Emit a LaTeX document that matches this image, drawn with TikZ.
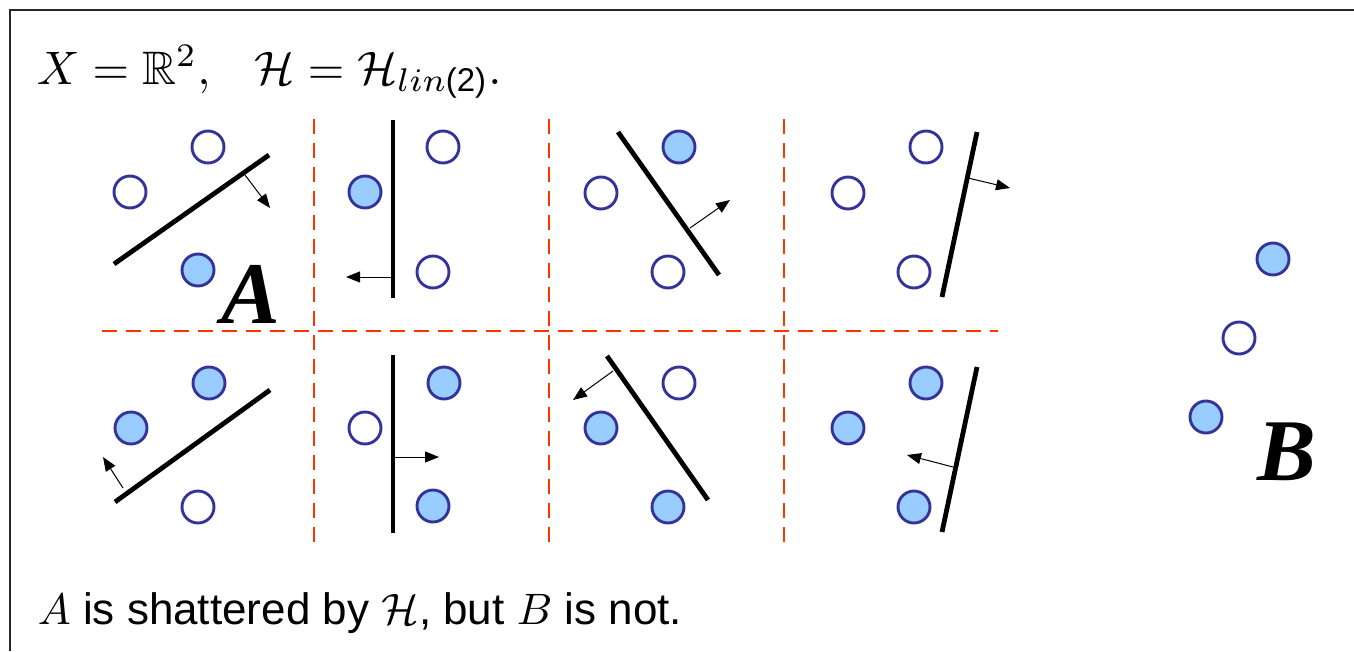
\documentclass[tikz,border=0pt]{standalone}
\usepackage{amsmath,amssymb}
\usepackage{fontspec}
\newfontfamily\arialf{Liberation Sans}
\newfontfamily\timesf{Liberation Serif}
\usetikzlibrary{arrows.meta}
\definecolor{navy}{RGB}{51,51,153}
\definecolor{ptfill}{RGB}{153,204,255}
\definecolor{sepred}{RGB}{255,51,0}
\definecolor{framegray}{RGB}{40,40,40}
\begin{document}
\begin{tikzpicture}[x=1pt,y=-1pt,
  pto/.style={circle,draw=navy,line width=2.9pt,minimum size=32pt,inner sep=0pt,fill=white},
  ptf/.style={pto,fill=ptfill},
  sepline/.style={draw=sepred,line width=2.8pt,dash pattern=on 15pt off 9pt},
  hyp/.style={draw=black,line width=4.8pt},
  nrm/.style={draw=black,line width=1pt,-{Triangle[length=14pt,width=11pt]}},
  setlabel/.style={font=\timesf\bfseries\itshape\fontsize{88}{90}\selectfont,inner sep=0pt,anchor=base}
]
\useasboundingbox (0,0) rectangle (1354,651);
% frame
\draw[framegray,line width=1.8pt] (10,651) -- (10,10) -- (1354,10);

% title
\node[anchor=base west,inner sep=0pt,scale=4.7] (title) at (36,84)
  {$X=\mathbb{R}^2,\enspace\; \mathcal{H}=\mathcal{H}_{lin\text{\arialf(2)}}.$};

% separators
\draw[sepline] (102,331) -- (998,331);
\foreach \x in {314,549,784}{\draw[sepline] (\x,119) -- (\x,545);}

% ---- panel 1
\node[pto] (a1) at (208,147) {};
\node[pto] (a2) at (130,192) {};
\node[ptf] (a3) at (198,270) {};
\coordinate (h1s) at (114,264); \coordinate (h1e) at (269,155);
\draw[hyp] (h1s) -- (h1e);
\coordinate (n1s) at (245,175); \coordinate (n1e) at (270,208);
\draw[nrm] (n1s) -- (n1e);
\node[setlabel] (A) at (251,323) {A};

% ---- panel 2
\node[ptf] (b1) at (365,192) {};
\node[pto] (b2) at (443,147) {};
\node[pto] (b3) at (433,272) {};
\coordinate (h2s) at (393,120); \coordinate (h2e) at (393,298);
\draw[hyp] (h2s) -- (h2e);
\coordinate (n2s) at (392,277); \coordinate (n2e) at (346,277);
\draw[nrm] (n2s) -- (n2e);

% ---- panel 3
\node[ptf] (c1) at (679,147) {};
\node[pto] (c2) at (601,193) {};
\node[pto] (c3) at (668,272) {};
\coordinate (h3s) at (618,132); \coordinate (h3e) at (719,275);
\draw[hyp] (h3s) -- (h3e);
\coordinate (n3s) at (690,228); \coordinate (n3e) at (730,200);
\draw[nrm] (n3s) -- (n3e);

% ---- panel 4
\node[pto] (d1) at (926,147) {};
\node[pto] (d2) at (848,193) {};
\node[pto] (d3) at (914,272) {};
\coordinate (h4s) at (977,132); \coordinate (h4e) at (942,297);
\draw[hyp] (h4s) -- (h4e);
\coordinate (n4s) at (968,178); \coordinate (n4e) at (1010,188);
\draw[nrm] (n4s) -- (n4e);

% ---- panel 5
\node[ptf] (e1) at (209,383) {};
\node[ptf] (e2) at (131,428) {};
\node[pto] (e3) at (198,507) {};
\coordinate (h5s) at (115,502); \coordinate (h5e) at (270,390);
\draw[hyp] (h5s) -- (h5e);
\coordinate (n5s) at (123,488); \coordinate (n5e) at (103,457);
\draw[nrm] (n5s) -- (n5e);

% ---- panel 6
\node[pto] (f1) at (365,428) {};
\node[ptf] (f2) at (444,383) {};
\node[ptf] (f3) at (433,506) {};
\coordinate (h6s) at (393,355); \coordinate (h6e) at (393,533);
\draw[hyp] (h6s) -- (h6e);
\coordinate (n6s) at (394,457); \coordinate (n6e) at (439,457);
\draw[nrm] (n6s) -- (n6e);

% ---- panel 7
\node[pto] (g1) at (679,383) {};
\node[ptf] (g2) at (601,428) {};
\node[ptf] (g3) at (668,507) {};
\coordinate (h7s) at (607,356); \coordinate (h7e) at (708,500);
\draw[hyp] (h7s) -- (h7e);
\coordinate (n7s) at (613,371); \coordinate (n7e) at (573,400);
\draw[nrm] (n7s) -- (n7e);

% ---- panel 8
\node[ptf] (k1) at (926,383) {};
\node[ptf] (k2) at (848,428) {};
\node[ptf] (k3) at (914,507) {};
\coordinate (h8s) at (977,367); \coordinate (h8e) at (942,532);
\draw[hyp] (h8s) -- (h8e);
\coordinate (n8s) at (953,467); \coordinate (n8e) at (907,455);
\draw[nrm] (n8s) -- (n8e);

% ---- set B
\node[ptf] (m1) at (1273,259) {};
\node[pto] (m2) at (1239,338) {};
\node[ptf] (m3) at (1206,417) {};
\node[setlabel] (B) at (1287,480) {B};

% caption
\node[anchor=base west,inner sep=0pt,scale=4.4] (caption) at (37,624)
  {\arialf $A$ is shattered by $\mathcal{H}$, but $B$ is not.};
\end{tikzpicture}
\end{document}
